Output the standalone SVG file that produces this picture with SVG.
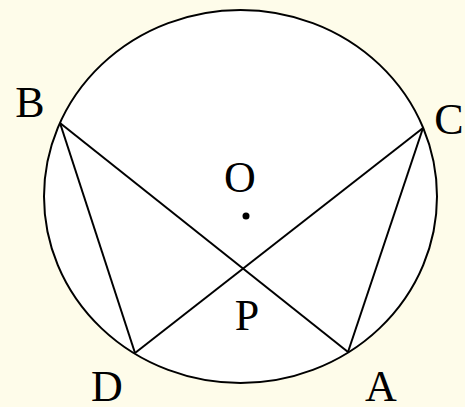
<svg xmlns="http://www.w3.org/2000/svg" width="465" height="407" viewBox="0 0 465 407">
<style>
.lbl{font-family:"Liberation Serif","Times New Roman",serif;font-size:44px;fill:#000;text-anchor:middle}
.ln{stroke:#000;stroke-width:2;fill:none}
</style>
<rect width="465" height="407" fill="#FEFCEA"/>
<g id="circle"><ellipse cx="240.5" cy="196.5" rx="196.5" ry="186.5" fill="#fff" stroke="#000" stroke-width="2"/></g>
<g id="connectors">
<line class="ln" x1="60" y1="123" x2="348" y2="352"/>
<line class="ln" x1="423" y1="128" x2="135" y2="353"/>
<line class="ln" x1="60" y1="123" x2="135" y2="353"/>
<line class="ln" x1="423" y1="128" x2="348" y2="352"/>
</g>
<g id="O"><circle cx="246" cy="216" r="3.5" fill="#000"/><text class="lbl" x="240" y="192">O</text></g>
<g id="P"><text class="lbl" x="247" y="330">P</text></g>
<g id="B"><text class="lbl" x="30" y="117">B</text></g>
<g id="C"><text class="lbl" x="449" y="134">C</text></g>
<g id="D"><text class="lbl" x="107" y="401">D</text></g>
<g id="A"><text class="lbl" x="381" y="401">A</text></g>
</svg>
